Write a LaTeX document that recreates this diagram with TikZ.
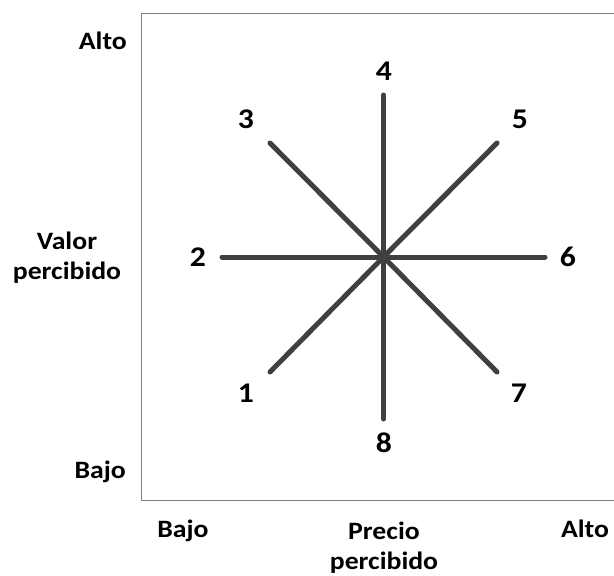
\documentclass[tikz,border=0pt]{standalone}
\usepackage{fontspec}
\setmainfont{Carlito}[FakeStretch=1.11]
\begin{document}
\begin{tikzpicture}[x=1pt,y=-1pt,
  ray/.style={draw=black!75, line width=5pt, line cap=round},
  num/.style={font=\bfseries\fontsize{28.5}{30}\selectfont, anchor=base, inner sep=0pt},
  lab/.style={font=\bfseries\fontsize{25}{30}\selectfont, inner sep=0pt},
  frame/.style={draw=black!50, line width=1pt}]
\useasboundingbox (0,0) rectangle (614,576);
% frame
\coordinate (ftr) at (614,13);
\coordinate (ftl) at (141,13);
\coordinate (fbl) at (141,500);
\coordinate (fbr) at (614,500);
\draw[frame] (ftr) -- (ftl) -- (fbl) -- (fbr);
% rays
\coordinate (c) at (383.5,257);
\coordinate (e1) at (270,372);
\coordinate (e2) at (222,257);
\coordinate (e3) at (270,143);
\coordinate (e4) at (383.5,95);
\coordinate (e5) at (497,143);
\coordinate (e6) at (545,257);
\coordinate (e7) at (497,372);
\coordinate (e8) at (383.5,419);
\foreach \i in {1,...,8} \draw[ray] (c) -- (e\i);
% numbers
\node[num] (n1) at (246,402) {1};
\node[num] (n2) at (198,266) {2};
\node[num] (n3) at (246,128) {3};
\node[num] (n4) at (384,80) {4};
\node[num] (n5) at (520,128) {5};
\node[num] (n6) at (568,266) {6};
\node[num] (n7) at (519,402) {7};
\node[num] (n8) at (384,452) {8};
% axis labels
\node[lab, anchor=base east] (yalto) at (127,49) {Alto};
\node[lab, anchor=base] (yval1) at (67,249) {Valor};
\node[lab, anchor=base] (yval2) at (67,279) {percibido};
\node[lab, anchor=base east] (ybajo) at (126,478) {Bajo};
\node[lab, anchor=base] (xbajo) at (183,537) {Bajo};
\node[lab, anchor=base] (xpre1) at (384,539) {Precio};
\node[lab, anchor=base] (xpre2) at (384,569) {percibido};
\node[lab, anchor=base] (xalto) at (585,537) {Alto};
\end{tikzpicture}
\end{document}
